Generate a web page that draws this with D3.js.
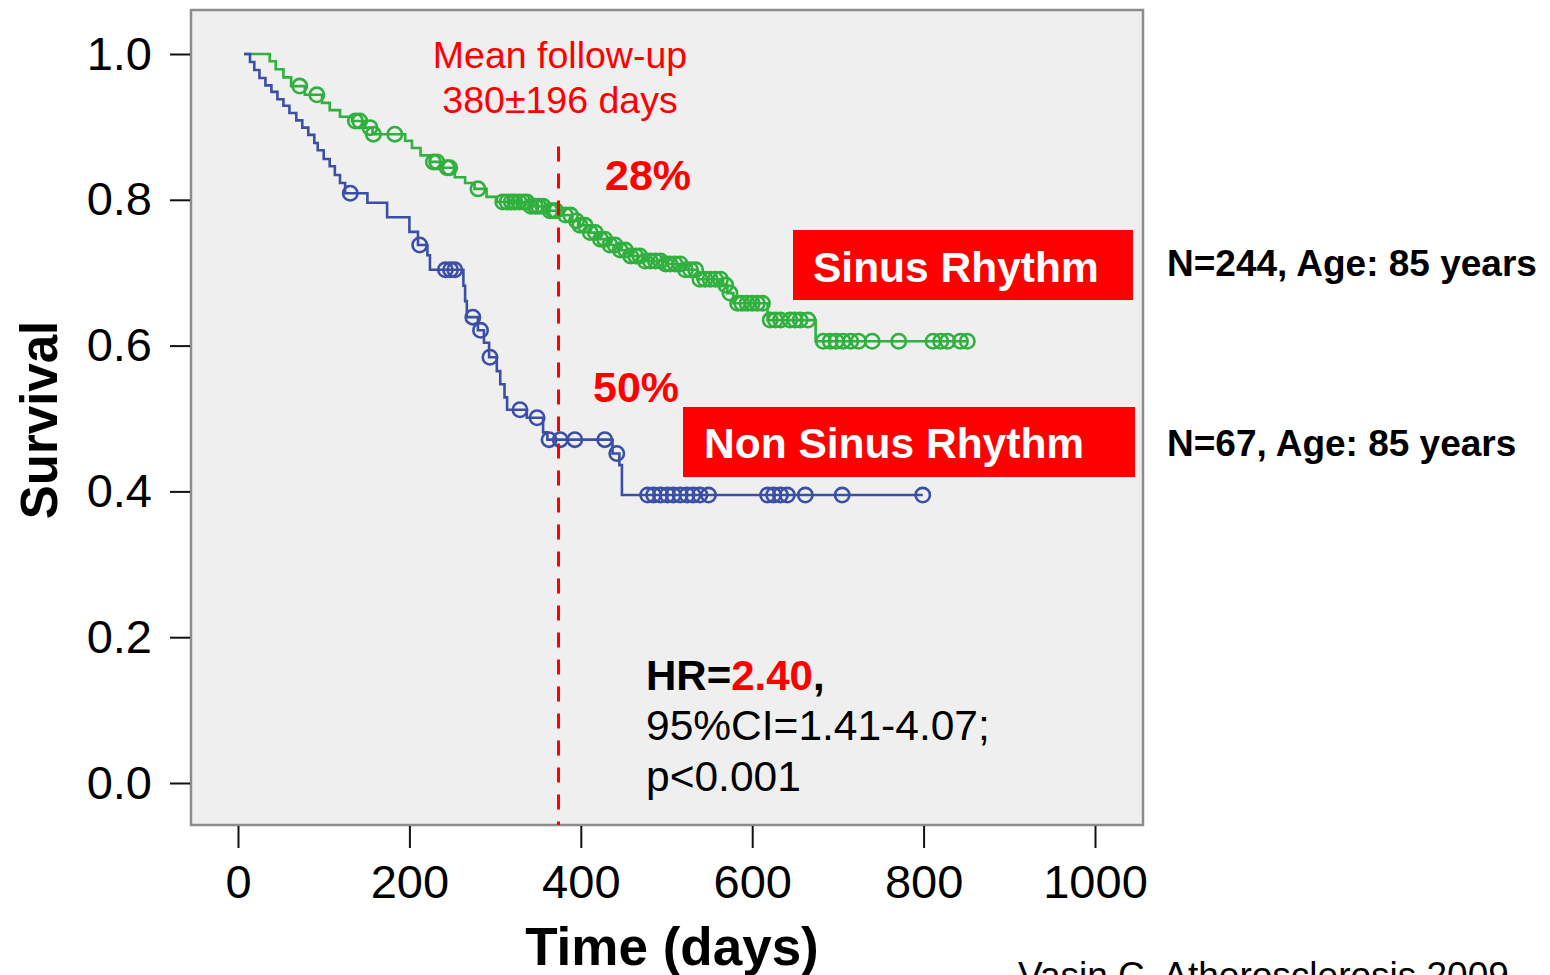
<!DOCTYPE html>
<html>
<head>
<meta charset="utf-8">
<script src="https://cdn.jsdelivr.net/npm/d3@7"></script>
<style>
  body { margin: 0; background: #fff; }
  svg text { font-family: "Liberation Sans", Arial, sans-serif; }
</style>
</head>
<body>
<svg id="chart" width="1550" height="975"></svg>
<script>
// Kaplan-Meier data (days, survival)
var greenEventDays = [37, 44, 53, 62, 78, 98, 107, 119, 133, 148, 157, 195, 203, 213, 224, 236, 253, 265, 276, 290,
                      302, 341, 362, 376, 390, 399, 411, 423, 434, 446, 458, 475, 499, 522, 536, 566, 571, 578, 618, 674];
var greenEventSurv = [0.990, 0.979, 0.968, 0.956, 0.944, 0.933, 0.923, 0.914, 0.908, 0.899, 0.890, 0.881, 0.871, 0.861, 0.852,
                      0.844, 0.831, 0.823, 0.815, 0.804, 0.797, 0.791, 0.785, 0.779, 0.771, 0.765, 0.755, 0.746, 0.738, 0.731,
                      0.723, 0.716, 0.712, 0.704, 0.691, 0.683, 0.672, 0.658, 0.635, 0.606];
var greenCensorDays = [72, 92, 137, 142, 154, 158, 183, 228, 232, 244, 247, 280, 309, 314, 319, 323, 328, 333, 337, 342, 347,
                       351, 356, 364, 368, 371, 382, 388, 395, 399, 405, 411, 417, 423, 428, 434, 440, 446, 452, 458, 464,
                       469, 475, 481, 487, 493, 499, 504, 510, 516, 522, 528, 534, 539, 545, 551, 557, 563, 569, 574, 583,
                       588, 594, 600, 606, 612, 621, 627, 633, 644, 650, 656, 665, 683, 691, 698, 706, 715, 724, 740, 771,
                       811, 820, 828, 843, 851];

var blueEventDays = [14, 19, 25, 32, 39, 46, 53, 60, 68, 75, 82, 89, 93, 100, 107, 113, 119, 125, 151, 174,
                     200, 210, 221, 224, 263, 265, 267, 280, 287, 293, 302, 306, 311, 314, 337, 356, 361, 437, 445, 448];
var blueEventSurv = [0.989, 0.978, 0.967, 0.957, 0.948, 0.938, 0.929, 0.919, 0.909, 0.899, 0.889, 0.878, 0.868, 0.856, 0.846,
                     0.834, 0.823, 0.809, 0.796, 0.776, 0.756, 0.738, 0.724, 0.704, 0.682, 0.661, 0.639, 0.621, 0.604, 0.584,
                     0.565, 0.547, 0.529, 0.512, 0.501, 0.481, 0.471, 0.452, 0.436, 0.395];
var blueCensorDays = [131, 212, 242, 248, 253, 274, 283, 294, 329, 349, 363, 376, 393, 428, 442, 478, 485, 493, 501, 508,
                      516, 524, 531, 539, 549, 618, 625, 633, 641, 662, 705, 799];

var startDay = 7;
var meanFollowUp = 374;
var xTicks = [0, 200, 400, 600, 800, 1000];
var yTicks = [0, 0.2, 0.4, 0.6, 0.8, 1.0];

var greenColor = '#30b03e',
    blueColor = '#3b4fa6',
    red = '#ff0000';

var svg = d3.select('#chart');

// Scales
var x = d3.scaleLinear().domain([0, 1000]).range([238, 1095]);
var y = d3.scaleLinear().domain([0, 1]).range([783, 54]);

// Plot frame
var frame = {left: 191, top: 10, right: 1143, bottom: 825};
svg.append('rect')
    .attr('x', frame.left).attr('y', frame.top)
    .attr('width', frame.right - frame.left).attr('height', frame.bottom - frame.top)
    .attr('fill', '#efefef')
    .attr('stroke', '#8c8c8c')
    .attr('stroke-width', 2.5);

// Axes
var yAxis = d3.axisLeft(y).tickValues(yTicks).tickFormat(d3.format('.1f')).tickSize(20).tickPadding(18);
var xAxis = d3.axisBottom(x).tickValues(xTicks).tickFormat(d3.format('d')).tickSize(22).tickPadding(17);

var gy = svg.append('g').attr('transform', 'translate(' + (frame.left - 1) + ',0)').call(yAxis);
var gx = svg.append('g').attr('transform', 'translate(0,' + (frame.bottom + 1) + ')').call(xAxis);
[gx, gy].forEach(function(g) {
    g.select('.domain').remove();
    g.selectAll('.tick line').attr('stroke', '#111').attr('stroke-width', 2);
    g.selectAll('.tick text').attr('fill', '#000').style('font-size', '47px')
        .style('font-family', '"Liberation Sans", Arial, sans-serif');
});

// Axis titles
svg.append('text')
    .attr('transform', 'translate(57,420) rotate(-90)')
    .attr('text-anchor', 'middle')
    .style('font-size', '51px').style('font-weight', 'bold')
    .text('Survival');
svg.append('text')
    .attr('x', 672).attr('y', 965)
    .attr('text-anchor', 'middle')
    .style('font-size', '53px').style('font-weight', 'bold')
    .text('Time (days)');

// Step function helpers
function survAt(days, surv, t) {
    var s = 1;
    for (var i = 0; i < days.length; i++) {
        if (days[i] <= t) s = surv[i];
    }
    return s;
}

function drawCurve(days, surv, censor, color) {
    var pts = [[startDay, 1]];
    days.forEach(function(d, i) { pts.push([d, surv[i]]); });
    pts.push([d3.max(censor.concat(days)), surv[surv.length - 1]]);

    var line = d3.line()
        .x(function(d) { return x(d[0]); })
        .y(function(d) { return y(d[1]); })
        .curve(d3.curveStepAfter);

    svg.append('path')
        .datum(pts)
        .attr('d', line)
        .attr('fill', 'none')
        .attr('stroke', color)
        .attr('stroke-width', 2.6);

    svg.append('g').selectAll('circle')
        .data(censor)
        .enter()
        .append('circle')
        .attr('cx', function(d) { return x(d); })
        .attr('cy', function(d) { return y(survAt(days, surv, d)); })
        .attr('r', 7.2)
        .attr('fill', 'none')
        .attr('stroke', color)
        .attr('stroke-width', 2.6);
}

drawCurve(greenEventDays, greenEventSurv, greenCensorDays, greenColor);
drawCurve(blueEventDays, blueEventSurv, blueCensorDays, blueColor);

// Mean follow-up dashed line
svg.append('line')
    .attr('x1', x(meanFollowUp)).attr('x2', x(meanFollowUp))
    .attr('y1', y(0.873)).attr('y2', frame.bottom)
    .attr('stroke', red)
    .attr('stroke-width', 3)
    .attr('stroke-dasharray', '15,12');

svg.append('text')
    .attr('x', 560).attr('y', 68)
    .attr('text-anchor', 'middle').attr('fill', red)
    .style('font-size', '37.5px')
    .text('Mean follow-up');
svg.append('text')
    .attr('x', 560).attr('y', 113)
    .attr('text-anchor', 'middle').attr('fill', red)
    .style('font-size', '37.5px')
    .text('380\u00b1196 days');

// Percent labels
svg.append('text')
    .attr('x', 605).attr('y', 190)
    .attr('fill', red).style('font-size', '43px').style('font-weight', 'bold')
    .text('28%');
svg.append('text')
    .attr('x', 593).attr('y', 402)
    .attr('fill', red).style('font-size', '43px').style('font-weight', 'bold')
    .text('50%');

// Group labels in red boxes
var boxes = [
    {label: 'Sinus Rhythm', x0: 793, x1: 1133, y0: 230, y1: 300, tx: 813, ty: 282},
    {label: 'Non Sinus Rhythm', x0: 683, x1: 1135, y0: 407, y1: 477, tx: 704, ty: 458}
];
boxes.forEach(function(b) {
    svg.append('rect')
        .attr('x', b.x0).attr('y', b.y0)
        .attr('width', b.x1 - b.x0).attr('height', b.y1 - b.y0)
        .attr('fill', red);
    svg.append('text')
        .attr('x', b.tx).attr('y', b.ty)
        .attr('fill', '#fff').style('font-size', '42.5px').style('font-weight', 'bold')
        .text(b.label);
});

// N / age annotations
svg.append('text')
    .attr('x', 1167).attr('y', 276)
    .style('font-size', '37px').style('font-weight', 'bold')
    .text('N=244, Age: 85 years');
svg.append('text')
    .attr('x', 1167).attr('y', 456)
    .style('font-size', '37px').style('font-weight', 'bold')
    .text('N=67, Age: 85 years');

// Hazard ratio block
var hr = svg.append('text')
    .attr('x', 646).attr('y', 690)
    .style('font-size', '42px').style('font-weight', 'bold');
hr.append('tspan').text('HR=');
hr.append('tspan').attr('fill', red).text('2.40');
hr.append('tspan').text(',');
svg.append('text')
    .attr('x', 646).attr('y', 740)
    .style('font-size', '42.5px')
    .text('95%CI=1.41-4.07;');
svg.append('text')
    .attr('x', 646).attr('y', 791)
    .style('font-size', '42.5px')
    .text('p<0.001');

// Citation (cut at page bottom, as in the source slide)
svg.append('text')
    .attr('x', 1018).attr('y', 988)
    .style('font-size', '37px')
    .text('Vasin C, Atherosclerosis 2009');
</script>
</body>
</html>
